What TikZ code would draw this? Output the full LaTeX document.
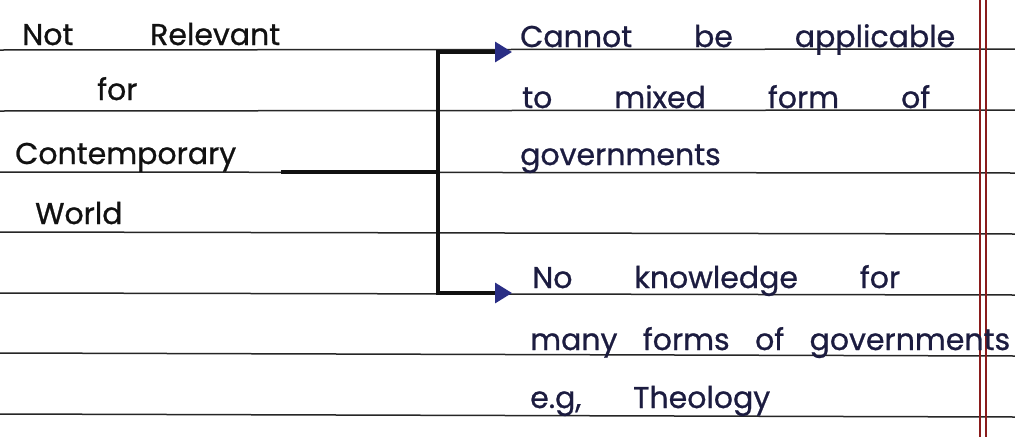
\documentclass[tikz,border=0pt]{standalone}
\usepackage{fontspec}
\setmainfont{Poppins}
\newfontfamily\handfont{Poppins}[FakeBold=0.8]
\usetikzlibrary{arrows.meta}
\definecolor{ink}{HTML}{111111}
\definecolor{bink}{HTML}{1C1C40}
\definecolor{arrowblue}{HTML}{2A2E85}
\definecolor{rulec}{HTML}{262626}
\definecolor{marginc}{HTML}{8A1C1C}
\begin{document}
\begin{tikzpicture}[x=1pt,y=-1pt,
  hand/.style={anchor=base west, inner sep=0pt, font=\handfont\fontsize{30}{32}\selectfont},
  lefttxt/.style={hand, text=ink},
  righttxt/.style={hand, text=bink},
  ruled/.style={rulec, line width=1.5pt},
  marginline/.style={marginc, line width=1.3pt},
  conn/.style={ink, line width=3.2pt},
  tip/.style={-{Triangle[length=17pt,width=20pt,fill=arrowblue,color=arrowblue]}}
]
\fill[white] (0,0) rectangle (1015,437);
\useasboundingbox (0,0) rectangle (1015,437);
% ruled paper
\foreach \a/\b in {50/49,111/110,172/173,232/234,293/295,353/356,414/417}
  \draw[ruled] (0,\a) -- (1015,\b);
\draw[marginline] (980,0) -- (980,437);
\draw[marginline] (986,0) -- (986,437);
% left text
\node[lefttxt] (l1) at (22,45) {\makebox[258pt][s]{Not\hfil Relevant}};
\node[lefttxt] (l2) at (97,100) {for};
\node[lefttxt] (l3) at (15,164) {Contemporary};
\node[lefttxt] (l4) at (35,224) {World};
% right text
\node[righttxt] (r1) at (520,47) {\makebox[435pt][s]{Cannot\hfil be\hfil applicable}};
\node[righttxt] (r2) at (522,108) {\makebox[408pt][s]{to\hfil mixed\hfil form\hfil of}};
\node[righttxt] (r3) at (520,165) {governments};
\node[righttxt] (r4) at (532,288) {\makebox[368pt][s]{No\hfil knowledge\hfil for}};
\node[righttxt] (r5) at (530,350) {\makebox[480pt][s]{many\hfil forms\hfil of\hfil governments}};
\node[righttxt] (r6) at (530,408) {\makebox[240pt][s]{e.g,\hfil Theology}};
% connectors
\coordinate (j) at (438,172);
\coordinate (t1) at (512,52);
\coordinate (t2) at (512,293);
\draw[conn] ([xshift=45pt]l3.base east |- j) -- (j);
\draw[conn,tip] (j) |- (t1);
\draw[conn,tip] (j) |- (t2);
\end{tikzpicture}
\end{document}
